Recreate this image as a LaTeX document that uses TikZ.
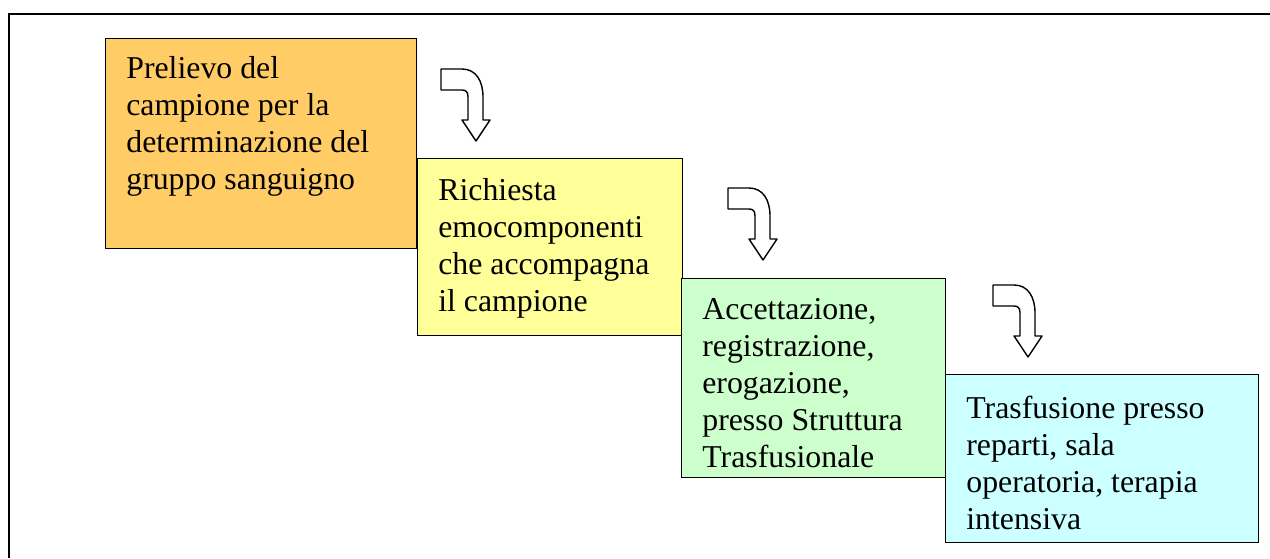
\documentclass[tikz,border=0pt]{standalone}
\usepackage{fontspec}
\setmainfont{Liberation Serif}
\usetikzlibrary{positioning}
\definecolor{boxorange}{HTML}{FFCC66}
\definecolor{boxyellow}{HTML}{FFFF99}
\definecolor{boxgreen}{HTML}{CCFFCC}
\definecolor{boxcyan}{HTML}{CCFFFF}
\tikzset{
 stepbox/.style={draw=black,line width=0.8pt,inner sep=0pt,anchor=north west},
 steptext/.style={inner sep=0pt,anchor=north west,align=left,font=\fontsize{18.1}{21}\selectfont},
 turnarrow/.pic={
  \draw[fill=white,line width=0.8pt,line join=round](0,0)--(21,0)
   .. controls (35,0) and (42,12) .. (42,28)--(42,51)--(49,51)--(35,72)
   --(21,51)--(27,51)--(27,28) .. controls (27,23) and (25,21) .. (21,21)--(0,21)--cycle;
 }
}
\begin{document}
\begin{tikzpicture}[x=0.02cm,y=-0.02cm]
 \useasboundingbox (0,0) rectangle (1270,558);
 \draw[line width=1pt](1270,14)--(9,14)--(9,558);
 \node[stepbox,fill=boxorange,minimum width=6.22cm,minimum height=4.2cm] (prelievo) at (105,38) {};
 \node[stepbox,fill=boxyellow,minimum width=5.3cm,minimum height=3.54cm] (richiesta) at (417,158) {};
 \node[stepbox,fill=boxgreen,minimum width=5.28cm,minimum height=3.98cm] (accettazione) at (681,278) {};
 \node[stepbox,fill=boxcyan,minimum width=6.26cm,minimum height=3.36cm] (trasfusione) at (945,374) {};
 \node[steptext] (prelievotext) at ([shift={(21,18)}]prelievo.north west) {Prelievo del\\campione per la\\determinazione del\\gruppo sanguigno};
 \node[steptext] (richiestatext) at ([shift={(21,20)}]richiesta.north west) {Richiesta\\emocomponenti\\che accompagna\\il campione};
 \node[steptext] (accettazionetext) at ([shift={(21,20)}]accettazione.north west) {Accettazione,\\registrazione,\\erogazione,\\presso Struttura\\Trasfusionale};
 \node[steptext] (trasfusionetext) at ([shift={(21,22)}]trasfusione.north west) {Trasfusione presso\\reparti, sala\\operatoria, terapia\\intensiva};
 \pic at (441,69) {turnarrow};
 \pic at (728,188) {turnarrow};
 \pic at (993,285) {turnarrow};
\end{tikzpicture}
\end{document}
